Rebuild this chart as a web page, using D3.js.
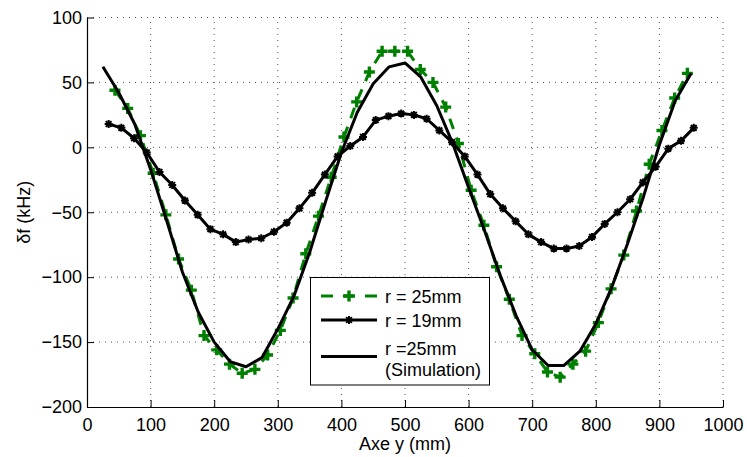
<!DOCTYPE html>
<html>
<head>
<meta charset="utf-8">
<script src="https://cdn.jsdelivr.net/npm/d3@7"></script>
<style>
  html, body { margin: 0; padding: 0; background: #fff; }
  svg { display: block; font-family: "Liberation Sans", Arial, Helvetica, sans-serif; }
</style>
</head>
<body>
<svg id="chart" width="747" height="457"></svg>
<script>
// ---- Data ----
const xTicks = [0, 100, 200, 300, 400, 500, 600, 700, 800, 900, 1000];
const yTicks = [-200, -150, -100, -50, 0, 50, 100];

// r = 25mm (measured)
const r25X = [44, 64, 84, 104, 124, 144, 164, 184, 204, 224, 244, 264, 284, 304, 324, 344, 364, 384, 404, 424,
              444, 464, 484, 504, 524, 544, 564, 584, 604, 624, 644, 664, 684, 704, 724, 744, 764, 784, 804, 824,
              844, 864, 884, 904, 924, 944];
const r25Y = [44, 30, 9, -20, -52, -86, -110, -145, -156, -167, -174, -171, -160, -141, -116, -82, -53, -23, 8, 35,
              58, 74, 74, 74, 60, 50, 31, 3, -33, -60, -92, -117, -145, -159, -173, -177, -167, -157, -135, -109,
              -83, -49, -13, 13, 38, 57];

// r = 19mm (measured)
const r19X = [34, 54, 74, 94, 114, 134, 154, 174, 194, 214, 234, 254, 274, 294, 314, 334, 354, 374, 394, 414,
              434, 454, 474, 494, 514, 534, 554, 574, 594, 614, 634, 654, 674, 694, 714, 734, 754, 774, 794, 814,
              834, 854, 874, 894, 914, 934, 954];
const r19Y = [18, 15, 7, -4, -19, -29, -41, -52, -63, -67, -73, -71, -70, -65, -58, -47, -35, -21, -7, 1,
              8, 21, 24, 26, 25, 22, 13, 4, -7, -21, -36, -47, -57, -67, -73, -78, -78, -76, -69, -59,
              -50, -40, -27, -15, -1, 5, 15];

// r = 25mm (Simulation)
const simX = [25, 50, 75, 100, 125, 150, 175, 200, 225, 250, 275, 300, 325, 350, 375, 400, 425, 450, 475,
              500, 525, 550, 575, 600, 625, 650, 675, 700, 725, 750, 775, 800, 825, 850, 875, 900, 925, 950];
const simY = [62, 42, 18, -17, -56, -96, -127, -150, -165, -169, -162, -140, -115, -81, -42, -4, 27, 49, 62,
              65, 54, 32, 3, -31, -64, -99, -130, -156, -168, -168, -157, -136, -108, -74, -38, 2, 36, 57];

const legendLabels = [["r = 25mm"], ["r = 19mm"], ["r =25mm", "(Simulation)"]];

// ---- Layout ----
const svg = d3.select("#chart");
const x = d3.scaleLinear().domain([0, 1000]).range([87, 723]);
const y = d3.scaleLinear().domain([-200, 100]).range([407, 17.5]);
const green = "rgb(0,128,0)";
const FONT = 18;

// grid
const grid = svg.append("g").attr("stroke", "#555").attr("stroke-width", 1).attr("stroke-dasharray", "1,5");
grid.selectAll("line.gx").data(xTicks.filter(d => d > 0)).join("line")
  .attr("x1", d => x(d)).attr("x2", d => x(d)).attr("y1", y(-200)).attr("y2", y(100));
grid.selectAll("line.gy").data(yTicks.filter(d => d > -200)).join("line")
  .attr("x1", x(0)).attr("x2", x(1000)).attr("y1", d => y(d)).attr("y2", d => y(d));

// axes
const fmt = d3.format("d");
const yfmt = d => (d < 0 ? "\u2212" + Math.abs(d) : String(d));
const xAxis = d3.axisBottom(x).tickValues(xTicks).tickFormat(fmt).tickSizeInner(-7).tickSizeOuter(0).tickPadding(11);
const yAxis = d3.axisLeft(y).tickValues(yTicks).tickFormat(yfmt).tickSizeInner(-7).tickSizeOuter(0).tickPadding(5);
const gx = svg.append("g").attr("transform", `translate(0,${y(-200)})`).call(xAxis);
const gy = svg.append("g").attr("transform", `translate(${x(0)},0)`).call(yAxis);
[gx, gy].forEach(g => {
  g.select(".domain").attr("stroke", "#000").attr("stroke-width", 1.2);
  g.selectAll(".tick line").attr("stroke", "#000").attr("stroke-width", 1);
  g.selectAll(".tick text").attr("font-size", FONT).attr("fill", "#000")
    .attr("font-family", "Liberation Sans, Arial, sans-serif");
});

// axis labels
svg.append("text").attr("x", (x(0) + x(1000)) / 2).attr("y", 450)
  .attr("text-anchor", "middle").attr("font-size", FONT).text("Axe y (mm)");
svg.append("text").attr("transform", `translate(30,${(y(-200) + y(100)) / 2}) rotate(-90)`)
  .attr("text-anchor", "middle").attr("font-size", FONT).text("δf (kHz)");

// series
const r25 = r25X.map((v, i) => [v, r25Y[i]]);
const r19 = r19X.map((v, i) => [v, r19Y[i]]);
const sim = simX.map((v, i) => [v, simY[i]]);
const line = d3.line().x(d => x(d[0])).y(d => y(d[1]));

const plusPath = s => `M${-s},0H${s}M0,${-s}V${s}`;
const starPath = s => {
  const d = s * 0.72;
  return `M${-s},0H${s}M0,${-s}V${s}M${-d},${-d}L${d},${d}M${-d},${d}L${d},${-d}`;
};

// r = 25mm dashed green with plus markers
svg.append("path").datum(r25).attr("d", line).attr("fill", "none")
  .attr("stroke", green).attr("stroke-width", 3).attr("stroke-dasharray", "11,9");
svg.append("g").selectAll("path").data(r25).join("path")
  .attr("transform", d => `translate(${x(d[0])},${y(d[1])})`)
  .attr("d", plusPath(5.5)).attr("stroke", green).attr("stroke-width", 3.4).attr("fill", "none");

// r = 19mm black with star markers
svg.append("path").datum(r19).attr("d", line).attr("fill", "none")
  .attr("stroke", "#000").attr("stroke-width", 3).attr("stroke-linejoin", "round");
svg.append("g").selectAll("path").data(r19).join("path")
  .attr("transform", d => `translate(${x(d[0])},${y(d[1])})`)
  .attr("d", starPath(4)).attr("stroke", "#000").attr("stroke-width", 2).attr("fill", "none");

// simulation black solid
svg.append("path").datum(sim).attr("d", line).attr("fill", "none")
  .attr("stroke", "#000").attr("stroke-width", 3).attr("stroke-linejoin", "round");

// legend
const lg = svg.append("g");
lg.append("rect").attr("x", 310.5).attr("y", 277.5).attr("width", 179).attr("height", 107.5)
  .attr("fill", "#fff").attr("stroke", "#000").attr("stroke-width", 1);
const rowsY = [296, 320, 356.5];
const lx1 = 321, lx2 = 377, lxm = 349, tx = 385;
// row 1
lg.append("line").attr("x1", lx1).attr("x2", lx2).attr("y1", rowsY[0]).attr("y2", rowsY[0])
  .attr("stroke", green).attr("stroke-width", 3).attr("stroke-dasharray", "12,10");
lg.append("path").attr("transform", `translate(${lxm},${rowsY[0]})`).attr("d", plusPath(5.5))
  .attr("stroke", green).attr("stroke-width", 3.4);
// row 2
lg.append("line").attr("x1", lx1).attr("x2", lx2).attr("y1", rowsY[1]).attr("y2", rowsY[1])
  .attr("stroke", "#000").attr("stroke-width", 3);
lg.append("path").attr("transform", `translate(${lxm},${rowsY[1]})`).attr("d", starPath(4))
  .attr("stroke", "#000").attr("stroke-width", 2);
// row 3
lg.append("line").attr("x1", lx1).attr("x2", lx2).attr("y1", rowsY[2]).attr("y2", rowsY[2])
  .attr("stroke", "#000").attr("stroke-width", 3);

lg.append("text").attr("x", tx).attr("y", 302.5).attr("font-size", FONT).text(legendLabels[0][0]);
lg.append("text").attr("x", tx).attr("y", 326.5).attr("font-size", FONT).text(legendLabels[1][0]);
lg.append("text").attr("x", tx).attr("y", 354.5).attr("font-size", FONT).text(legendLabels[2][0]);
lg.append("text").attr("x", tx).attr("y", 375.5).attr("font-size", FONT).text(legendLabels[2][1]);
</script>
</body>
</html>
